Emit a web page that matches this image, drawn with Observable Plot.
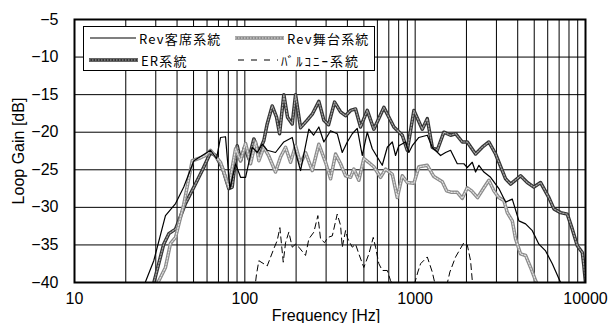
<!DOCTYPE html>
<html><head><meta charset="utf-8">
<script src="https://cdn.jsdelivr.net/npm/d3@7"></script>
<script src="https://cdn.jsdelivr.net/npm/@observablehq/plot@0.6"></script>
<style>
body{margin:0;background:#fff;}
#wrap{position:relative;width:615px;height:323px;overflow:hidden;background:#fff;}
#legend{position:absolute;left:83px;top:26px;width:292px;height:45px;box-sizing:border-box;border:1px solid #000;background:#fff;}
#legend svg{position:absolute;left:0;top:0;overflow:visible;}
</style></head><body><div id="wrap"></div>
<script>
// [frequency Hz, loop gain dB]
const revSeat = [[25.5,-40.5],[29.2,-37.1],[34.2,-31.1],[39.2,-29.5],[43.8,-27.3],[50.2,-23.8],[56.2,-23.1],[62.9,-22.4],[68.2,-23.5],[72.0,-20.7],[77.0,-20.6],[81.7,-27.5],[88.2,-24.2],[94.4,-26.0],[101,-26.0],[110.5,-22.0],[118.2,-22.7],[126.5,-21.6],[135.3,-22.4],[151.4,-22.7],[169.4,-21.3],[189.8,-20.7],[198.5,-22.7],[212.4,-25.1],[237.6,-19.6],[253.2,-20.4],[272,-19.3],[291,-21.3],[318.6,-19.8],[348.7,-20.2],[373.2,-22.7],[399.4,-21.3],[427.3,-20.2],[457.1,-19.5],[489,-23.1],[523.3,-20.0],[560,-22.2],[599,-23.3],[641,-24.4],[686,-22.0],[734,-21.3],[767,-23.1],[802,-21.8],[878,-21.3],[918,-22.7],[962,-21.8],[1051,-20.7],[1178,-20.4],[1260,-22.0],[1410,-23.1],[1508,-22.7],[1614,-22.4],[1767,-24.2],[1932,-24.2],[2023,-24.7],[2164,-24.0],[2263,-25.3],[2367,-24.4],[2532,-25.3],[2772,-26.0],[3101,-27.5],[3395,-29.3],[3717,-28.9],[4064,-31.8],[4449,-32.2],[4872,-33.1],[5326,-34.9],[5832,-35.8],[6385,-37.5],[6982,-39.5],[7300,-40.5]];
const revStage = [[30.6,-40.2],[34.2,-38.0],[36.6,-34.8],[39.2,-34.0],[43.8,-29.6],[49.1,-23.8],[55.0,-23.4],[58.8,-23.1],[62.9,-22.4],[72.0,-24.0],[80.5,-27.3],[88.2,-22.2],[94.4,-23.8],[101,-21.5],[108,-24.2],[115.6,-21.3],[120.9,-23.8],[129.3,-22.0],[137.8,-23.1],[151.4,-25.3],[162,-23.3],[173.4,-22.0],[185.5,-24.0],[198.5,-21.8],[212.4,-24.2],[227.2,-22.7],[248.8,-25.1],[272,-21.6],[297.8,-24.0],[318.6,-26.2],[340.9,-22.9],[364.8,-24.2],[390.3,-25.8],[417.6,-26.0],[436.5,-24.9],[467.1,-26.4],[499.7,-23.5],[532.6,-24.0],[572,-24.6],[626.4,-26.0],[670.3,-24.9],[734,-25.6],[785.1,-28.7],[840,-25.8],[899,-26.7],[983,-26.8],[1051,-24.6],[1178,-24.4],[1287.6,-25.9],[1443,-26.6],[1529,-27.8],[1636,-28.0],[1767,-28.0],[1891,-28.8],[2023,-27.4],[2144,-27.8],[2325,-28.7],[2532,-27.4],[2709,-26.4],[2899,-27.8],[3101,-28.7],[3318,-29.1],[3474,-30.7],[3717,-31.8],[3887,-34.2],[4158,-36.2],[4449,-36.4],[4760,-38.0],[5093,-39.75],[5233,-40.3]];
const er = [[29.1,-40.2],[33.4,-34.9],[35.8,-33.5],[39.2,-32.9],[44.8,-29.5],[51.3,-26.9],[56.2,-25.1],[62.9,-22.7],[67.3,-23.1],[73.7,-24.7],[80.5,-27.5],[84.3,-27.3],[90.2,-21.8],[94.4,-23.8],[99.6,-22.0],[105.6,-23.5],[113,-20.9],[120.9,-22.7],[129.3,-21.1],[135.3,-18.9],[144.8,-16.5],[153.5,-18.0],[159.9,-20.2],[169.4,-15.0],[178.1,-18.0],[189.8,-18.9],[198.5,-15.0],[212.4,-19.4],[232.5,-18.4],[248.8,-17.6],[272,-15.9],[291,-18.4],[310,-19.0],[336.3,-16.0],[364.8,-17.3],[390.3,-17.8],[417.6,-17.1],[446.7,-16.9],[477.9,-19.3],[523.3,-17.1],[572,-19.6],[655,-16.7],[750,-19.3],[840,-20.4],[899,-22.4],[983,-17.1],[1101,-19.6],[1178,-18.2],[1260,-22.0],[1348,-22.4],[1474,-20.0],[1614,-20.4],[1727,-20.2],[1891,-21.3],[2023,-21.3],[2263,-22.9],[2477,-22.0],[2709,-21.3],[2966,-22.9],[3395,-26.2],[3633,-26.9],[4158,-25.8],[4553,-26.7],[4977,-27.3],[5450,-26.7],[6098,-28.7],[6524,-30.2],[7143,-30.7],[7818,-30.9],[8366,-32.9],[8951,-35.1],[9577,-36.0],[9786,-37.8],[10000,-40.0]];
const balcony = [[114,-41.1],[117.1,-38.9],[120.9,-37.1],[135.3,-37.8],[148,-35.5],[155,-34.4],[160.6,-32.7],[168.1,-37.3],[173.4,-34.7],[181.3,-33.3],[189.8,-35.3],[198.5,-34.9],[207.6,-35.3],[227.2,-36.4],[237.6,-34.2],[254.2,-33.3],[268.4,-31.1],[278.3,-34.2],[293.8,-34.7],[307.2,-34.0],[326.1,-33.8],[348.7,-30.9],[364.8,-32.4],[373.2,-35.3],[390.3,-33.1],[402.6,-34.2],[427.3,-35.3],[446.7,-34.9],[467.1,-36.2],[499.7,-38.0],[534.7,-36.2],[567.5,-34.0],[585.4,-35.3],[612.2,-37.5],[641,-38.4],[686,-38.4],[717.2,-39.75],[767,-41.1],[965.4,-41.1],[1037,-38.6],[1076,-37.5],[1178,-36.6],[1260,-38.6],[1336,-41.1],[1508,-41.1],[1599,-38.6],[1727,-36.6],[1932,-34.7],[2023,-35.0],[2115,-37.1],[2182,-40.7]];

const xTicks = [10, 100, 1000, 10000];
const xGrid = [20,30,40,50,60,70,80,90,100,200,300,400,500,600,700,800,900,1000,2000,3000,4000,5000,6000,7000,8000,9000];
const yTicks = [-40,-35,-30,-25,-20,-15,-10,-5];
const yGrid = [-35,-30,-25,-20,-15,-10];
const seriesNames = ["Rev客席系統","Rev舞台系統","ER系統","ﾊﾞﾙｺﾆｰ系統"];

const fx = d => d[0], fy = d => d[1];
const font = "'Liberation Sans', Arial, sans-serif";

const chart = Plot.plot({
  width: 615, height: 323,
  marginLeft: 74, marginRight: 30, marginTop: 19, marginBottom: 41,
  style: {fontFamily: font, fontSize: "16px", background: "#fff", color: "#000", overflow: "visible"},
  x: {type: "log", domain: [10, 10000]},
  y: {domain: [-40, -5]},
  marks: [
    Plot.ruleX(xGrid, {stroke: "#000", strokeWidth: 1}),
    Plot.ruleY(yGrid, {stroke: "#000", strokeWidth: 1}),
    Plot.line(er, {x: fx, y: fy, stroke: "#333", strokeWidth: 3.5, clip: true}),
    Plot.line(er, {x: fx, y: fy, stroke: "#a8a8a8", strokeWidth: 1.2, strokeDasharray: "1.5,1.5", clip: true}),
    Plot.line(revStage, {x: fx, y: fy, stroke: "#8a8a8a", strokeWidth: 3.5, clip: true}),
    Plot.line(revStage, {x: fx, y: fy, stroke: "#e2e2e2", strokeWidth: 1.2, strokeDasharray: "1.5,1.5", clip: true}),
    Plot.line(revSeat, {x: fx, y: fy, stroke: "#000", strokeWidth: 1.2, clip: true}),
    Plot.line(balcony, {x: fx, y: fy, stroke: "#000", strokeWidth: 1, strokeDasharray: "6,4", clip: true}),
    Plot.frame({stroke: "#000", strokeWidth: 2}),
    Plot.axisX(xTicks, {tickSize: 0, tickPadding: 10, tickFormat: d => String(d), fontSize: 16, label: null}),
    Plot.axisY(yTicks, {tickSize: 0, tickPadding: 16, fontSize: 16, label: null}),
    Plot.text(["Frequency [Hz]"], {frameAnchor: "bottom", dy: 33, dx: -4, text: d => d, fontSize: 16, lineAnchor: "middle", textAnchor: "middle"}),
    Plot.text(["Loop Gain [dB]"], {frameAnchor: "left", dx: -56, rotate: -90, text: d => d, fontSize: 16, lineAnchor: "middle", textAnchor: "middle"})
  ]
});
const wrap = document.getElementById("wrap");
wrap.appendChild(chart);

// legend
const lg = document.createElement("div");
lg.id = "legend";
const ns = "http://www.w3.org/2000/svg";
const svg = document.createElementNS(ns, "svg");
svg.setAttribute("width", 290); svg.setAttribute("height", 43);
function line(x1, x2, y, attrs) {
  const l = document.createElementNS(ns, "line");
  l.setAttribute("x1", x1); l.setAttribute("x2", x2); l.setAttribute("y1", y); l.setAttribute("y2", y);
  for (const k in attrs) l.setAttribute(k, attrs[k]);
  svg.appendChild(l);
}
function text(x, y, s, ls) {
  const t = document.createElementNS(ns, "text");
  t.setAttribute("x", x); t.setAttribute("y", y);
  t.setAttribute("dominant-baseline", "central");
  t.setAttribute("font-family", "'Noto Sans CJK JP', sans-serif");
  t.setAttribute("font-size", "13");
  t.setAttribute("letter-spacing", ls);
  t.textContent = s;
  svg.appendChild(t);
}
line(6, 52, 11, {stroke: "#000", "stroke-width": 1.2});
text(55, 11, seriesNames[0], 1.2);
line(151, 200, 11, {stroke: "#8a8a8a", "stroke-width": 3.5});
line(151, 200, 11, {stroke: "#e2e2e2", "stroke-width": 1.2, "stroke-dasharray": "1.5,1.5"});
text(203, 11, seriesNames[1], 1.2);
line(5, 54, 33, {stroke: "#333", "stroke-width": 3.5});
line(5, 54, 33, {stroke: "#a8a8a8", "stroke-width": 1.2, "stroke-dasharray": "1.5,1.5"});
text(57, 33, seriesNames[2], 1.2);
line(154, 194, 33, {stroke: "#000", "stroke-width": 1, "stroke-dasharray": "6,7"});
text(197, 33, seriesNames[3], 2);
lg.appendChild(svg);
wrap.appendChild(lg);
</script></body></html>
